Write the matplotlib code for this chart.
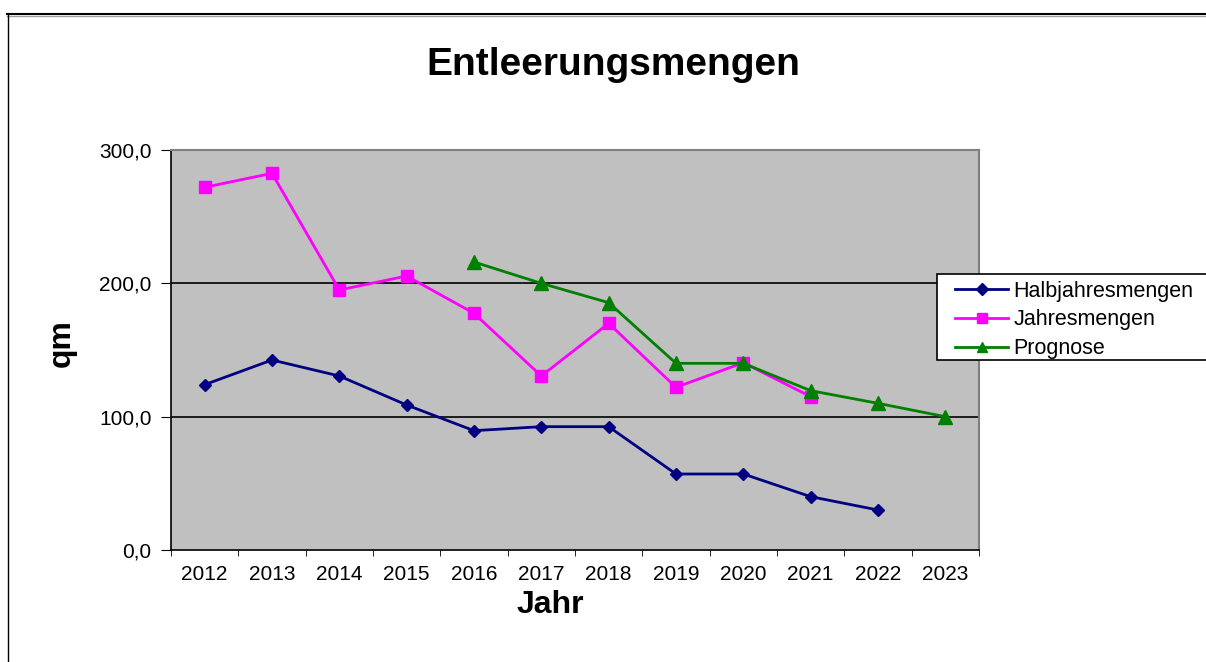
import matplotlib
matplotlib.use("Agg")
import matplotlib.pyplot as plt
import numpy as np
from matplotlib.lines import Line2D
from matplotlib.patches import Rectangle

years = ["2012", "2013", "2014", "2015", "2016", "2017", "2018", "2019", "2020", "2021", "2022", "2023"]
halbjahr = [124, 142.5, 130.5, 108.75, 89.5, 92.5, 92.5, 57, 57, 40, 30, None]
jahres = [272, 282.5, 195, 205.5, 177.5, 130.5, 170, 122, 140.5, 115, None, None]
prognose = [None, None, None, None, 216, 200, 185.5, 140, 140, 119.5, 110, 100]
y_ticks = [0, 100, 200, 300]
y_ticklabels = ["0,0", "100,0", "200,0", "300,0"]

plt.rcParams['font.family'] = ['Liberation Sans', 'DejaVu Sans']

fig = plt.figure(figsize=(12.06, 6.62), dpi=100)
W, H = 1206, 662
ax = fig.add_axes([171 / W, 1 - 550 / H, (979 - 171) / W, (550 - 150) / H])
ax.set_facecolor("#C0C0C0")

x = np.arange(len(years))
def arr(v):
    return np.array([np.nan if a is None else a for a in v], dtype=float)

ax.plot(x, arr(halbjahr), color="#000080", lw=2, marker="D", ms=6.5, label="Halbjahresmengen", zorder=3)
ax.plot(x, arr(jahres), color="#FF00FF", lw=2, marker="s", ms=9, label="Jahresmengen", zorder=3)
ax.plot(x, arr(prognose), color="#008000", lw=2, marker="^", ms=10, label="Prognose", zorder=4)

ax.set_xlim(-0.5, len(years) - 0.5)
ax.set_ylim(0, 300)
ax.set_yticks(y_ticks)
ax.set_yticklabels(y_ticklabels, fontsize=15)
ax.set_xticks(x)
ax.set_xticklabels(years, fontsize=15)
ax.set_xticks(np.arange(-0.5, len(years)), minor=True)
ax.tick_params(axis="x", which="major", length=0, pad=11)
ax.tick_params(axis="x", which="minor", length=4.5, color="black")
ax.tick_params(axis="y", length=7, color="black", direction="out", pad=7)
for v in [100, 200]:
    ax.axhline(v, color="black", lw=1.2, zorder=1)

for s in ["top", "right"]:
    ax.spines[s].set_color("#808080")
    ax.spines[s].set_linewidth(1.5)
for s in ["left", "bottom"]:
    ax.spines[s].set_color("black")
    ax.spines[s].set_linewidth(1.2)

fig.text(613 / W, 1 - 65 / H, "Entleerungsmengen", fontsize=28, fontweight="bold", ha="center", va="center")
fig.text(62 / W, 1 - 343 / H, "qm", fontsize=23, fontweight="bold", ha="center", va="center", rotation=90)
fig.text(550 / W, 1 - 605 / H, "Jahr", fontsize=23, fontweight="bold", ha="center", va="center")

# legend box (frame drawn separately)
fig.add_artist(Rectangle((937 / W, 1 - 360 / H), (1215 - 937) / W, (360 - 274) / H,
                         transform=fig.transFigure, facecolor="white", edgecolor="black", lw=1.2, zorder=5))
leg = fig.legend(loc="upper left", bbox_to_anchor=(955 / W, 1 - 280.5 / H), frameon=False,
                 fontsize=15.5, handlelength=2.47, handletextpad=0.23, borderpad=0, labelspacing=0.37,
                 borderaxespad=0)
leg.set_zorder(6)
for h in leg.legend_handles:
    h.set_markersize(6.5)

# figure border (top and left)
fig.add_artist(Line2D([7 / W, 1], [1 - 13.5 / H, 1 - 13.5 / H], color="black", lw=1.5, transform=fig.transFigure))
fig.add_artist(Line2D([7 / W, 1], [1 - 15.5 / H, 1 - 15.5 / H], color="#A0A0A0", lw=1, transform=fig.transFigure))
fig.add_artist(Line2D([7.5 / W, 7.5 / W], [0, 1 - 13.5 / H], color="black", lw=1, transform=fig.transFigure))

fig.savefig("out.png", dpi=100)
